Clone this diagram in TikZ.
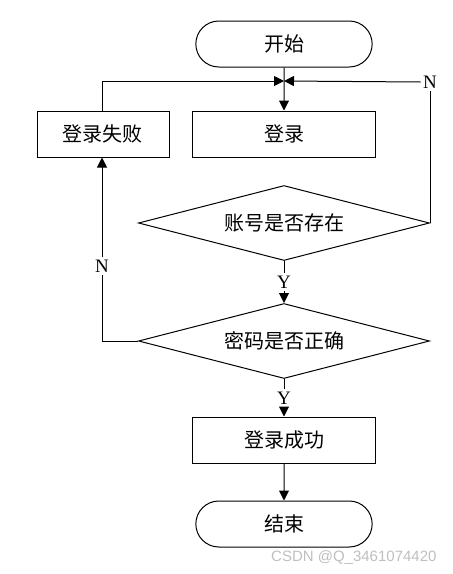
\documentclass[tikz,border=0pt]{standalone}
\usepackage{fontspec}
\setmainfont{Liberation Serif}
\newfontfamily\cjk{Noto Sans CJK SC}
\newfontfamily\wmfont{Liberation Sans}
\usetikzlibrary{shapes.geometric,shapes.misc,arrows.meta}

\tikzset{
    terminal/.style={draw, rounded rectangle, minimum width=183pt, minimum height=46pt,
        font=\cjk\fontsize{20}{22}\selectfont},
    process/.style={draw, rectangle, minimum width=183pt, minimum height=46pt,
        font=\cjk\fontsize{20}{22}\selectfont},
    decision/.style={draw, diamond, aspect=3.88, minimum width=291pt, minimum height=75pt,
        inner sep=0pt, font=\cjk\fontsize{20}{22}\selectfont},
    yn/.style={font=\fontsize{19}{21}\selectfont, inner sep=2pt},
    flow/.style={-{Triangle[length=10pt,width=10pt]}}
}

\begin{document}
\begin{tikzpicture}[x=1pt, y=-1pt, line width=1pt]
    \useasboundingbox (0,0) rectangle (453,574);

    % main column
        \node[terminal] (start) at (284,44) {开始};
        \node[process] (login) at (284,134) {登录};
        \node[process, minimum width=132pt] (fail) at (103,134) {登录失败};
        \node[decision] (user) at (284,223) {账号是否存在};
        \node[decision] (pwd) at (284,341) {密码是否正确};
        \node[process] (ok) at (284,440) {登录成功};
        \node[terminal] (stop) at (284,524) {结束};

    % labels on the branches
        \node[yn] (y1) at (284,282) {Y};
        \node[yn] (y2) at (284,398) {Y};
        \node[yn] (n1) at (430,82) {N};
        \node[yn] (n2) at (102,266) {N};

    % meeting point above login
        \coordinate (join) at (284,81);
        \coordinate (failtop) at (102,81);
        \coordinate (pwdleft) at (102,341);

    \draw[flow] (start) -- (login);
    \draw[flow] (fail.north -| failtop) -- (failtop) -- (join);
    \draw (user.east) -| (n1.south);
    \draw[flow] (n1.west) -- (join);

    \draw (user.south) -- (y1.north);
    \draw[flow] (y1.south) -- (pwd.north);
    \draw (pwd.west) -- (pwdleft) -- (n2.south);
    \draw[flow] (n2.north) -- (fail.south -| n2);
    \draw (pwd.south) -- (y2.north);
    \draw[flow] (y2.south) -- (ok.north);
    \draw[flow] (ok) -- (stop);

    % watermark
    \node[anchor=base east, text=gray!50, font=\wmfont\fontsize{15}{17}\selectfont, inner sep=0pt]
        (mark) at (437,561) {CSDN @Q\_3461074420};
\end{tikzpicture}
\end{document}
